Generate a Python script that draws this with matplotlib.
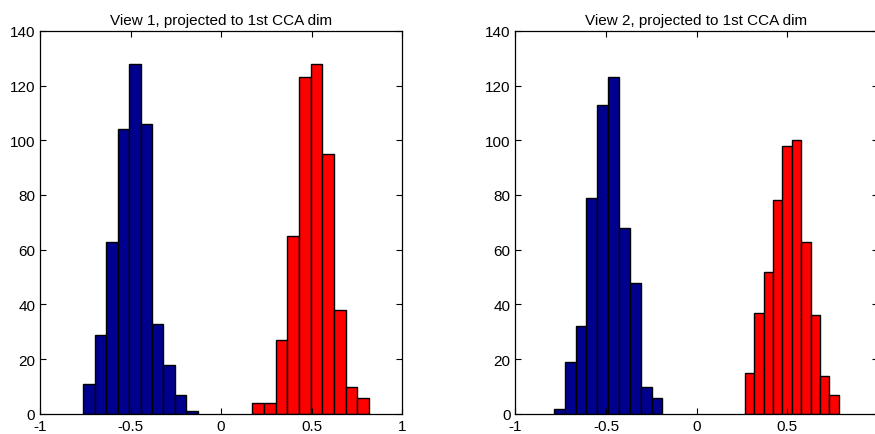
import numpy as np
import matplotlib
matplotlib.use('Agg')
import matplotlib.pyplot as plt

plt.rcParams['font.family'] = ['Liberation Sans', 'DejaVu Sans']

# histogram counts (10 bins per group)
v1_blue_range = (-0.761, -0.129)
v1_blue_counts = [11, 29, 63, 104, 128, 106, 33, 18, 7, 1]
v1_red_range = (0.173, 0.816)
v1_red_counts = [4, 4, 27, 65, 123, 128, 95, 38, 10, 6]

v2_blue_range = (-0.788, -0.188)
v2_blue_counts = [2, 19, 32, 79, 113, 123, 68, 48, 10, 6]
v2_red_range = (0.267, 0.786)
v2_red_counts = [15, 37, 52, 78, 98, 100, 63, 36, 14, 7]

titles = ['View 1, projected to 1st CCA dim', 'View 2, projected to 1st CCA dim']
xtick_vals = [-1, -0.5, 0, 0.5, 1]
xtick_labels = ['-1', '-0.5', '0', '0.5', '1']
blue = '#00008F'
red = '#FF0000'


def draw_hist(ax, rng, counts, color):
    edges = np.linspace(rng[0], rng[1], len(counts) + 1)
    ax.bar(edges[:-1], counts, width=np.diff(edges), align='edge',
           color=color, edgecolor='black', linewidth=1.0)


fig = plt.figure(figsize=(8.75, 4.35), dpi=100)
ax1 = fig.add_axes([0.0457, 0.046, 0.414, 0.881])
ax2 = fig.add_axes([0.589, 0.046, 0.414, 0.881])

draw_hist(ax1, v1_blue_range, v1_blue_counts, blue)
draw_hist(ax1, v1_red_range, v1_red_counts, red)
draw_hist(ax2, v2_blue_range, v2_blue_counts, blue)
draw_hist(ax2, v2_red_range, v2_red_counts, red)

for ax, t in zip([ax1, ax2], titles):
    ax.set_xlim(-1, 1)
    ax.set_ylim(0, 140)
    ax.set_xticks(xtick_vals)
    ax.set_xticklabels(xtick_labels)
    ax.set_yticks(range(0, 141, 20))
    ax.tick_params(direction='in', top=True, right=True, labelsize=11,
                   length=4, width=0.8)
    for s in ax.spines.values():
        s.set_linewidth(0.9)
    ax.set_title(t, fontsize=11, pad=5)

# the right panel runs past the image edge, its "1" label falls outside
ax2.set_xticklabels(xtick_labels[:-1] + [''])

fig.savefig('out.png', dpi=100)
